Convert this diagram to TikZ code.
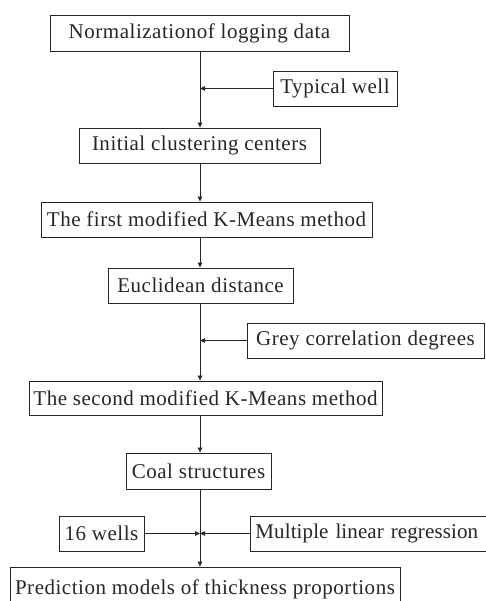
\documentclass[tikz,border=0pt]{standalone}
\usepackage{fontspec}
\setmainfont[LetterSpace=2.5]{Liberation Serif}
\usetikzlibrary{arrows.meta}
\tikzset{
  box/.style={draw=black!85, line width=0.9pt, inner sep=0pt, align=center,
    font=\fontsize{21}{24}\selectfont, text=black!85},
  arr/.style={draw=black!85, line width=0.8pt, -{Triangle[length=5pt,width=4.5pt]}},
}
\begin{document}
\begin{tikzpicture}[x=1pt,y=1pt]
\useasboundingbox (0,0) rectangle (486,-601);
\coordinate (t) at (200,0);
\node[box, minimum width=299, minimum height=36] (n1) at (199.5,-33) {Normalizationof logging data};
\node[box, minimum width=124, minimum height=35] (tw) at (335,-88.5) {Typical well};
\node[box, minimum width=241, minimum height=35] (n2) at (199.5,-145.5) {Initial clustering centers};
\node[box, minimum width=331, minimum height=35] (n3) at (206.5,-219.5) {The first modified K-Means method};
\node[box, minimum width=185, minimum height=35] (n4) at (200.5,-285.5) {Euclidean distance};
\node[box, minimum width=237, minimum height=35] (gc) at (365.5,-340.5) {Grey correlation degrees};
\node[box, minimum width=353, minimum height=34] (n5) at (205.5,-398) {The second modified K-Means method};
\node[box, minimum width=145, minimum height=36] (n6) at (198.5,-471) {Coal structures};
\node[box, minimum width=85, minimum height=35] (w16) at (101.5,-533.5) {16 wells};
\node[box, minimum width=244, minimum height=35, anchor=west, align=left, text width=244, inner xsep=0pt] (mlr) at (250,-533.5) {\hspace*{5pt}\addfontfeature{LetterSpace=0.5}Multiple linear regression};
\node[box, minimum width=390, minimum height=44] (n7) at (205,-589) {Prediction models of thickness proportions};
\coordinate (j1) at (200,-88.5);
\coordinate (j2) at (200,-340.5);
\coordinate (j3) at (200,-533.5);
\draw[arr] (n1.south -| t) -- (n2.north -| t);
\draw[arr] (tw.west) -- (j1);
\draw[arr] (n2.south -| t) -- (n3.north -| t);
\draw[arr] (n3.south -| t) -- (n4.north -| t);
\draw[arr] (n4.south -| t) -- (n5.north -| t);
\draw[arr] (gc.west) -- (j2);
\draw[arr] (n5.south -| t) -- (n6.north -| t);
\draw[arr] (n6.south -| t) -- (n7.north -| t);
\draw[arr] (w16.east) -- (j3);
\draw[arr] (mlr.west) -- (j3);
\end{tikzpicture}
\end{document}
